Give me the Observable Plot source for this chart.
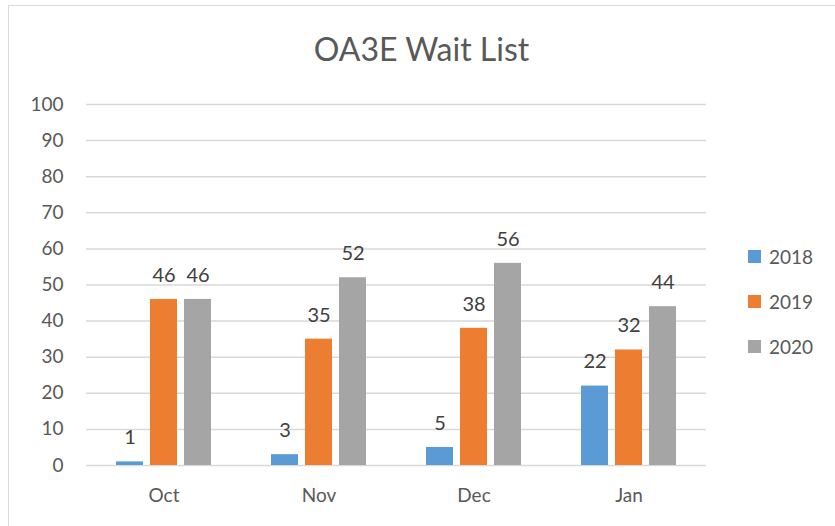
<!DOCTYPE html>
<html>
<head>
<meta charset="utf-8">
<script src="https://cdn.jsdelivr.net/npm/d3@7"></script>
<script src="https://cdn.jsdelivr.net/npm/@observablehq/plot@0.6"></script>
<style>
  html, body { margin: 0; padding: 0; background: #fff; }
  #wrap { position: relative; width: 835px; height: 526px; overflow: hidden; font-family: Lato, "Open Sans", sans-serif; }
  #frame { position: absolute; left: 8px; top: 5px; width: 900px; height: 600px; border: 1.5px solid #d9d9d9; box-sizing: border-box; }
  #title { position: absolute; left: 4px; width: 835px; top: 29px; text-align: center; font-size: 32px; color: #595959; }
  #legend { position: absolute; left: 748px; top: 234px; font-size: 19px; color: #595959; }
  .li { display: flex; align-items: center; height: 45px; line-height: 26px; }
  .li .sw { width: 13px; height: 13px; margin-right: 8px; }
  svg { position: absolute; left: 0; top: 0; }
</style>
</head>
<body>
<div id="wrap">
  <div id="frame"></div>
  <div id="title">OA3E Wait List</div>
  <div id="legend"></div>
</div>
<script>
const months = ["Oct", "Nov", "Dec", "Jan"];
const years = ["2018", "2019", "2020"];
const colors = ["#5B9BD5", "#ED7D31", "#A5A5A5"];
const values2018 = [1, 3, 5, 22];
const values2019 = [46, 35, 38, 32];
const values2020 = [46, 52, 56, 44];
const yTicks = [0, 10, 20, 30, 40, 50, 60, 70, 80, 90, 100];

const series = [values2018, values2019, values2020];
const data = [];
months.forEach((m, i) => years.forEach((yr, j) => data.push({month: m, year: yr, value: series[j][i]})));

const chart = Plot.plot({
  width: 835,
  height: 526,
  marginLeft: 85,
  marginRight: 128,
  marginTop: 104,
  marginBottom: 61,
  style: {background: "transparent", fontFamily: "Lato, 'Open Sans', sans-serif", fontSize: "19px", color: "#595959", overflow: "visible"},
  fx: {domain: months, padding: 0, label: null, tickSize: 0, tickPadding: 23, axis: "bottom"},
  x: {domain: years, paddingInner: 0.22, paddingOuter: 0.86, axis: null},
  y: {domain: [0, 100], ticks: yTicks, label: null, tickSize: 0, tickPadding: 23},
  color: {domain: years, range: colors},
  marks: [
    Plot.ruleY(yTicks, {stroke: "#d9d9d9", strokeWidth: 1.5}),
    Plot.barY(data, {fx: "month", x: "year", y: "value", fill: "year"}),
    Plot.text(data, {fx: "month", x: "year", y: "value", text: d => String(d.value), dy: -24, fontSize: 20, fill: "#404040"})
  ]
});
document.getElementById("wrap").appendChild(chart);

const legend = document.getElementById("legend");
years.forEach((yr, j) => {
  const row = document.createElement("div");
  row.className = "li";
  const sw = document.createElement("div");
  sw.className = "sw";
  sw.style.background = colors[j];
  const t = document.createElement("span");
  t.textContent = yr;
  row.appendChild(sw);
  row.appendChild(t);
  legend.appendChild(row);
});
</script>
</body>
</html>
